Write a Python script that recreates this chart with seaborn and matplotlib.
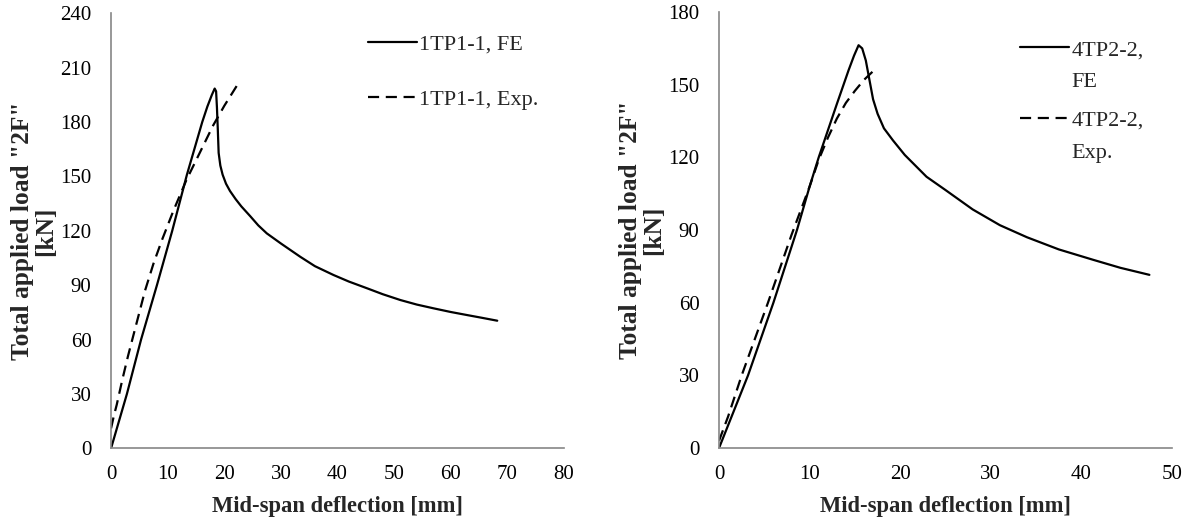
import numpy as np
import pandas as pd
import seaborn as sns
import matplotlib as mpl
import matplotlib.pyplot as plt

# 1TP1-1 (left panel)
fe1_x = [0, 2.8, 5.3, 8.1, 10.8, 13.4, 16.1, 17.0, 17.8, 18.3, 18.55, 18.7, 18.85, 19.0,
         19.3, 19.7, 20.3, 21.0, 22.0, 23.0, 24.6, 26.0, 27.5, 30.0, 33.4, 36.0, 39.3,
         42.0, 45.2, 48.0, 51.1, 54.0, 57.0, 60.0, 62.9, 65.5, 68.2]
fe1_y = [0, 30, 60, 90, 120, 151, 180, 188.5, 195, 198.5, 197, 188, 176, 163,
         156, 151, 146, 142, 137.5, 133.5, 128, 123, 118.6, 113, 105.7, 100.5, 95.6,
         92, 88.3, 85, 81.8, 79.3, 77.2, 75.2, 73.5, 72, 70.4]
exp1_x = [0, 0.5, 1, 2, 3, 4, 5, 6, 7.5, 9, 11, 13.3, 15.5, 18, 20, 22.4]
exp1_y = [11, 18, 24, 38, 51, 63, 75, 87, 102, 115, 131, 148, 162, 178, 189, 201]

# 4TP2-2 (right panel)
fe2_x = [0, 3.2, 6.0, 8.6, 10.0, 11.0, 13.0, 14.3, 14.9, 15.4, 15.8, 16.2, 16.6, 17.0, 17.5,
         18.2, 19.2, 20.5, 21.7, 22.9, 25.0, 28.0, 31.0, 34.0, 37.5, 41.3, 44.3, 47.5]
fe2_y = [0, 30, 60, 90, 108, 120, 142, 156, 162, 166.3, 165, 160, 152, 144, 138,
         132, 127, 121, 116.5, 112, 106.5, 98.5, 92, 87, 82, 77.7, 74.4, 71.5]
exp2_x = [0, 1, 2.5, 5.4, 8, 10, 11, 12, 13, 14, 15, 16, 17.4]
exp2_y = [3, 13, 30, 60, 88, 108, 119, 128, 136, 142.5, 147.5, 152, 157]

sns.set_style("white")
plt.rcParams['font.family'] = ['Liberation Serif', 'DejaVu Serif']

panels = [
    dict(fe=(fe1_x, fe1_y), exp=(exp1_x, exp1_y), labels=['1TP1-1, FE', '1TP1-1, Exp.'],
         xlim=(0, 80), xticks=range(0, 81, 10), ylim=(0, 240), yticks=range(0, 241, 30),
         pos=[0.0938, 0.1445, 0.3826, 0.830], leg=(0.567, 0.953), spacing=1.57, extra=None),
    dict(fe=(fe2_x, fe2_y), exp=(exp2_x, exp2_y), labels=['4TP2-2,', '4TP2-2,'],
         xlim=(0, 50), xticks=range(0, 51, 10), ylim=(0, 180), yticks=range(0, 181, 30),
         pos=[0.6073, 0.145, 0.3826, 0.832], leg=(0.665, 0.937), spacing=2.25,
         extra=['FE', 'Exp.']),
]

fig = plt.figure(figsize=(11.84, 5.24), dpi=100)
spine_col = '#868686'
for p in panels:
    ax = fig.add_axes(p['pos'])
    sns.lineplot(x=p['fe'][0], y=p['fe'][1], ax=ax, color='black', lw=1.6,
                 sort=False, estimator=None, label=p['labels'][0])
    sns.lineplot(x=p['exp'][0], y=p['exp'][1], ax=ax, color='black', lw=1.6,
                 sort=False, estimator=None, label=p['labels'][1], linestyle=(0, (5, 3)))
    ax.set_xlim(*p['xlim'])
    ax.set_ylim(*p['ylim'])
    ax.set_xticks(list(p['xticks']))
    ax.set_yticks(list(p['yticks']))
    for s in ['top', 'right']:
        ax.spines[s].set_visible(False)
    for s in ['left', 'bottom']:
        ax.spines[s].set_color(spine_col)
        ax.spines[s].set_linewidth(1.2)
    ax.tick_params(axis='both', which='major', direction='out', length=5, width=1.2,
                   color=spine_col, labelsize=15, labelcolor='black')
    ax.tick_params(axis='y', pad=9)
    ax.tick_params(axis='x', pad=7)
    ax.set_xlabel('Mid-span deflection [mm]', fontsize=16.3, fontweight='bold', labelpad=9)
    ax.set_ylabel('Total applied load "2F"\n[kN]', fontsize=18.3, fontweight='bold',
                  labelpad=2, linespacing=1.05)
    leg = ax.legend(loc='upper left', bbox_to_anchor=p['leg'], frameon=False, fontsize=16,
                    handlelength=2.2, handletextpad=0.1, labelspacing=p['spacing'],
                    borderaxespad=0, borderpad=0)
    if p['extra']:
        # second line of each legend label sits under the first, handle stays on line one
        fig.canvas.draw()
        inv = ax.transAxes.inverted()
        for txt, extra in zip(leg.get_texts(), p['extra']):
            bb = txt.get_window_extent()
            x0, y0 = inv.transform((bb.x0, bb.y0))
            ax.text(x0, y0 - 0.03, extra, transform=ax.transAxes, fontsize=16,
                    ha='left', va='top')

plt.savefig('out.png', dpi=100)
plt.close()
